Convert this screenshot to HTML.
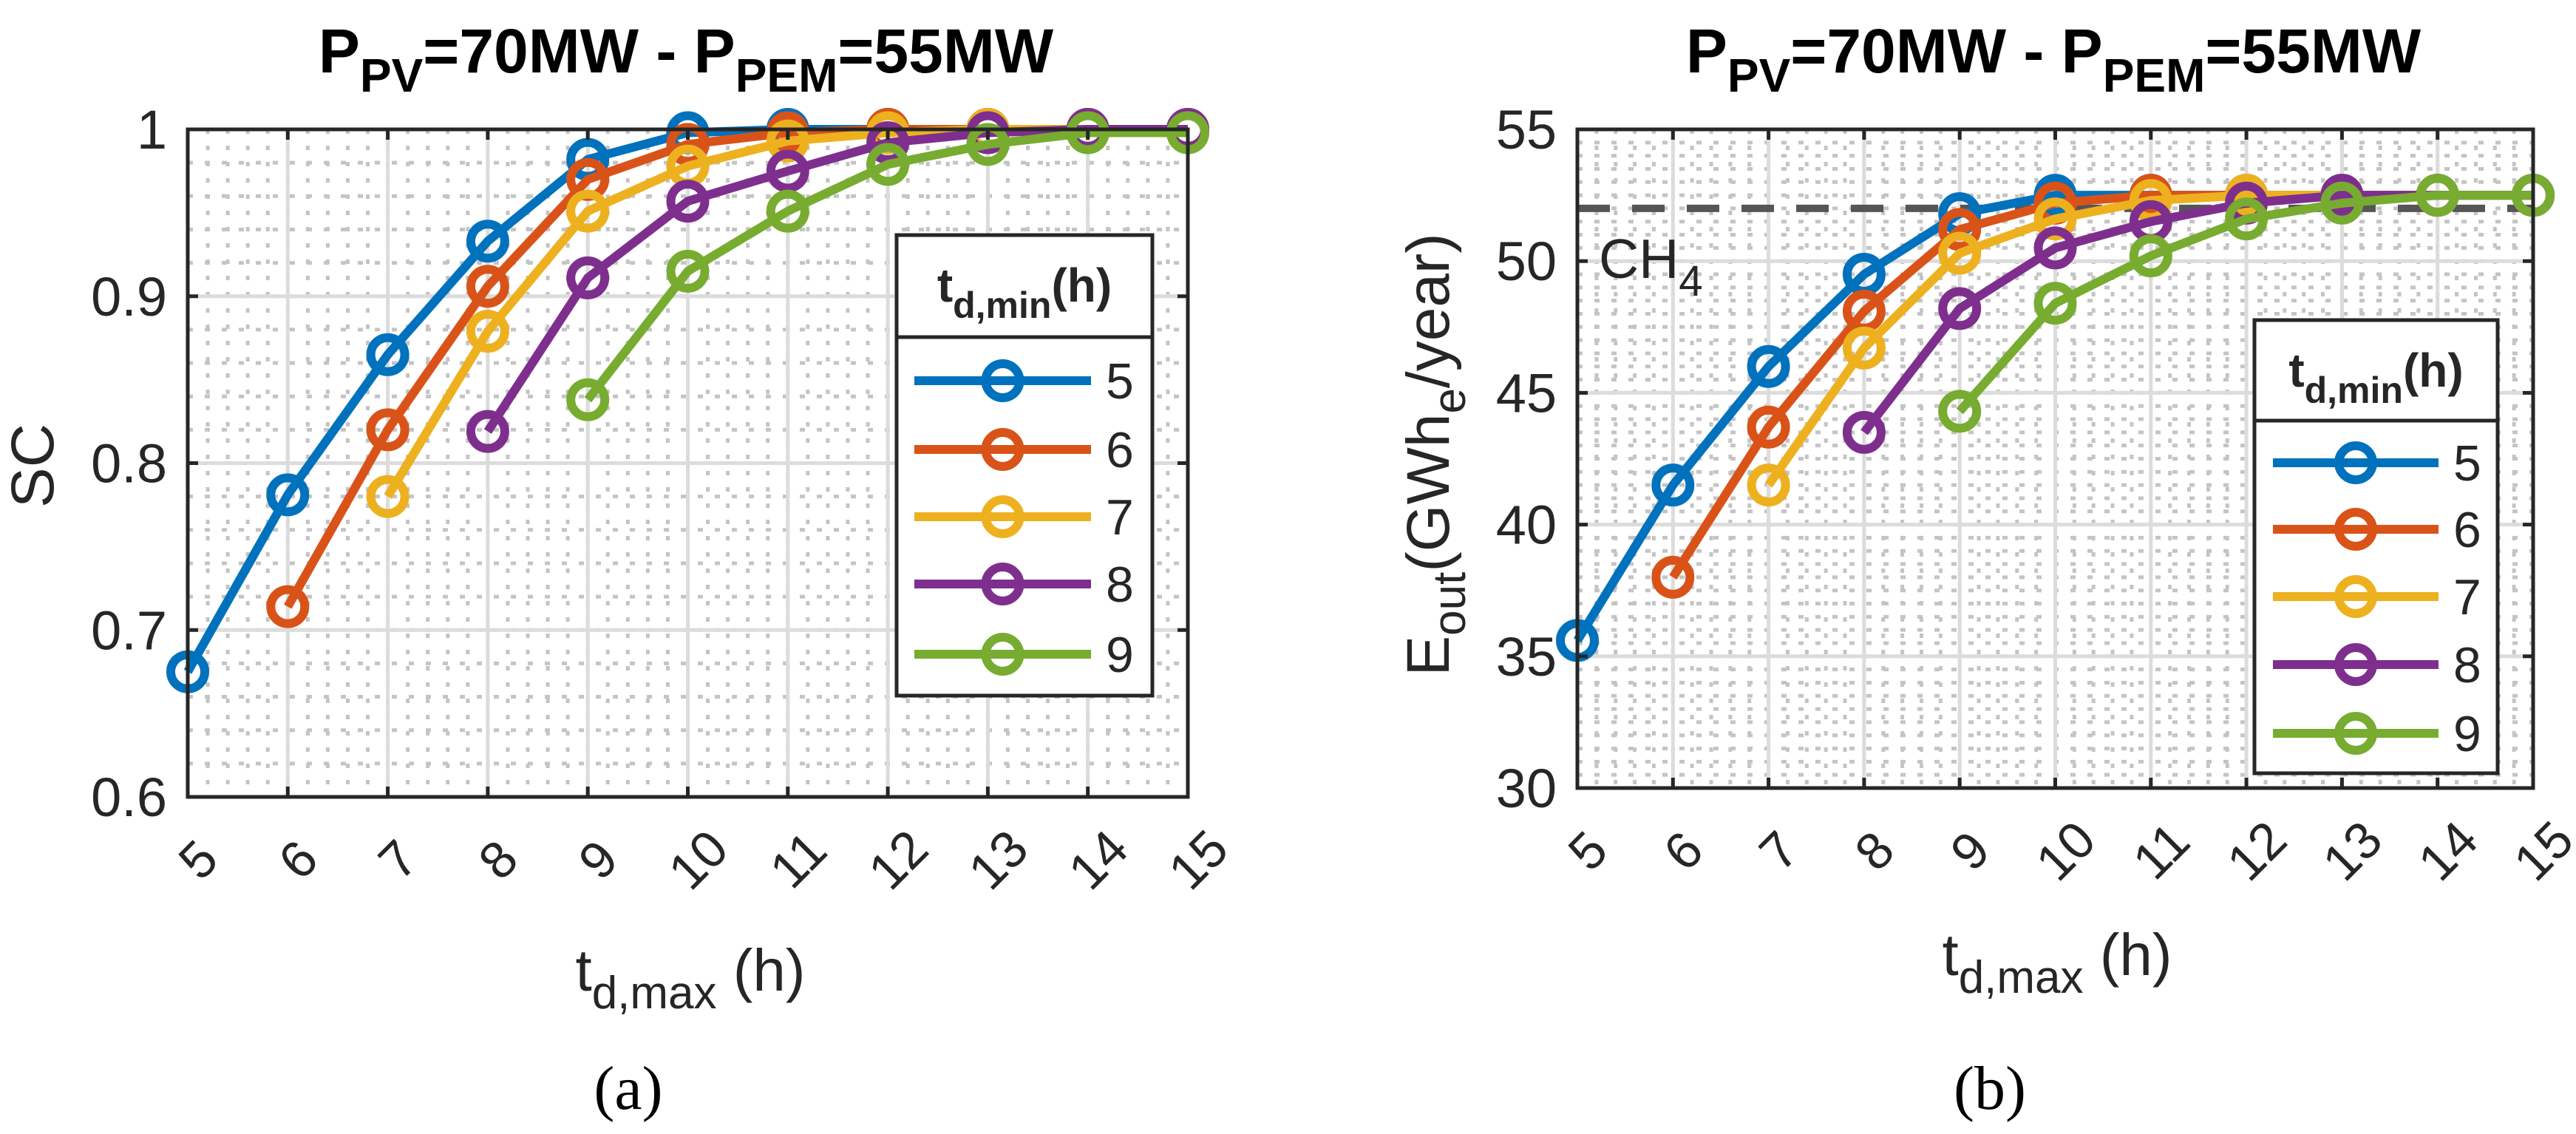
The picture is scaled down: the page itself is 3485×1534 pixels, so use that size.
<!DOCTYPE html>
<html><head><meta charset="utf-8"><style>
html,body{margin:0;padding:0;background:#fff}
svg{display:block}
text{font-family:"Liberation Sans",Arial,sans-serif;fill:#262626}
</style></head><body>
<svg id="svg" width="3485" height="1534" viewBox="0 0 3485 1534" xmlns="http://www.w3.org/2000/svg"></svg>
<script>
const xCategories = [5,6,7,8,9,10,11,12,13,14,15];
const seriesNames = ['5','6','7','8','9'];
const colors = ['#0072BD','#D95319','#EDB120','#7E2F8E','#77AC30'];
const scStart = [5,6,7,8,9];
const sc5 = [0.675,0.781,0.865,0.933,0.982,0.998,1,1,1,1,1];
const sc6 = [0.714,0.820,0.906,0.970,0.991,0.998,1,1,1,1];
const sc7 = [0.780,0.879,0.951,0.978,0.993,0.998,1,1,1];
const sc8 = [0.819,0.911,0.957,0.975,0.992,0.998,1,1];
const sc9 = [0.838,0.915,0.951,0.979,0.991,0.998,0.998];
const e5 = [35.6,41.5,46.0,49.5,51.8,52.5,52.5,52.5,52.5,52.5,52.5];
const e6 = [38.0,43.7,48.1,51.2,52.2,52.5,52.5,52.5,52.5,52.5];
const e7 = [41.5,46.7,50.3,51.6,52.3,52.5,52.5,52.5,52.5];
const e8 = [43.5,48.2,50.5,51.5,52.2,52.5,52.5,52.5];
const e9 = [44.3,48.4,50.2,51.6,52.2,52.5,52.5];
const scTicks = [0.6,0.7,0.8,0.9,1];
const scTickLabels = ['0.6','0.7','0.8','0.9','1'];
const eTicks = [30,35,40,45,50,55];
const eTickLabels = ['30','35','40','45','50','55'];
const ch4Level = 52;

const NS='http://www.w3.org/2000/svg';
const svg=document.getElementById('svg');
function mk(tag,attrs,parent){const e=document.createElementNS(NS,tag);for(const k in attrs)e.setAttribute(k,attrs[k]);(parent||svg).appendChild(e);return e;}

function drawChart(id,L,R,T,B,ymin,ymax,ticks,tickLabels,ystepMinor,series,leg,extra){
  const g=mk('g',{});
  
  
  const xs=v=>L+(v-5)/(15-5)*(R-L);
  const ys=v=>B-(v-ymin)/(ymax-ymin)*(B-T);
  for(let v=5;v<=15.001;v+=0.2){mk('line',{x1:xs(v),x2:xs(v),y1:T,y2:B,stroke:'#c4c4c4','stroke-width':5,'stroke-dasharray':'6 16'},g);}
  for(let v=ymin;v<=ymax+1e-9;v+=ystepMinor){mk('line',{x1:L,x2:R,y1:ys(v),y2:ys(v),stroke:'#c4c4c4','stroke-width':5,'stroke-dasharray':'7 16'},g);}
  xCategories.forEach(v=>mk('line',{x1:xs(v),x2:xs(v),y1:T,y2:B,stroke:'#dcdcdc','stroke-width':5},g));
  ticks.forEach(v=>mk('line',{x1:L,x2:R,y1:ys(v),y2:ys(v),stroke:'#dcdcdc','stroke-width':5},g));
  if(extra) extra(g,xs,ys);
  series.forEach((s,i)=>{
    const pts=s.map((v,j)=>[xs(scStart[i]+j),ys(v)]);
    const p=mk('polyline',{points:pts.map(p=>p.join(',')).join(' '),fill:'none',stroke:colors[i],'stroke-width':12,'stroke-linejoin':'round'},g);
    
    
    pts.forEach(pt=>{const c=mk('circle',{cx:pt[0],cy:pt[1],r:23,fill:'none',stroke:colors[i],'stroke-width':12},g);
      
      });
  });
  mk('rect',{x:L,y:T,width:R-L,height:B-T,fill:'none',stroke:'#262626','stroke-width':5},g);
  xCategories.forEach(v=>{mk('line',{x1:xs(v),x2:xs(v),y1:T,y2:T+14,stroke:'#262626','stroke-width':5},g);mk('line',{x1:xs(v),x2:xs(v),y1:B,y2:B-14,stroke:'#262626','stroke-width':5},g);
    const cx=xs(v)+14, cy=B+85;
    const t=mk('text',{x:cx,y:cy+24,'font-size':70,'text-anchor':'middle',transform:`rotate(-45 ${cx} ${cy})`},g);t.textContent=v;
    
    });
  ticks.forEach((v,i)=>{mk('line',{x1:L,x2:L+14,y1:ys(v),y2:ys(v),stroke:'#262626','stroke-width':5},g);mk('line',{x1:R,x2:R-14,y1:ys(v),y2:ys(v),stroke:'#262626','stroke-width':5},g);
    const t=mk('text',{x:L-28,y:ys(v)+26,'font-size':74,'text-anchor':'end'},g);t.textContent=tickLabels[i];
    
    });
  const lg=mk('g',{},g);
  
  
  mk('rect',{x:leg.x0,y:leg.y0,width:leg.x1-leg.x0,height:leg.y1-leg.y0,fill:'#fff',stroke:'#262626','stroke-width':5},lg);
  mk('line',{x1:leg.x0,x2:leg.x1,y1:leg.div,y2:leg.div,stroke:'#262626','stroke-width':5},lg);
  const lt=mk('text',{x:(leg.x0+leg.x1)/2,y:leg.y0+90,'font-size':64,'font-weight':'bold','text-anchor':'middle',fill:'#000'},lg);
  lt.innerHTML='t<tspan dy="22" font-size="50">d,min</tspan><tspan dy="-22">(h)</tspan>';
  
  
  seriesNames.forEach((n,i)=>{const y=leg.rows[i];
    const e=mk('g',{},lg);
    
    
    mk('line',{x1:leg.lx0,x2:leg.lx1,y1:y,y2:y,stroke:colors[i],'stroke-width':12},e);
    mk('circle',{cx:(leg.lx0+leg.lx1)/2,cy:y,r:23,fill:'none',stroke:colors[i],'stroke-width':12},e);
    const t=mk('text',{x:leg.lx1+20,y:y+24,'font-size':68,fill:'#000'},e);t.textContent=n;});
  return g;
}

drawChart('chart-sc',254,1607,175,1078,0.6,1,scTicks,scTickLabels,0.02,[sc5,sc6,sc7,sc8,sc9],
 {x0:1213,x1:1559,y0:318,y1:941,div:456,rows:[515,608,699,790,885],lx0:1237,lx1:1476},null);
drawChart('chart-eout',2134,3427,175,1066,30,55,eTicks,eTickLabels,0.5,[e5,e6,e7,e8,e9],
 {x0:3050,x1:3379,y0:433,y1:1046,div:569,rows:[626,716,807,899,992],lx0:3075,lx1:3299},
 (g,xs,ys)=>{const l=mk('line',{x1:2134,x2:3427,y1:ys(ch4Level),y2:ys(ch4Level),stroke:'#555','stroke-width':10,'stroke-dasharray':'44 30'},g);
   
   });

function T(html,attrs,name){const t=document.createElementNS(NS,'text');for(const k in attrs)t.setAttribute(k,attrs[k]);t.innerHTML=html;svg.appendChild(t);
 
 return t;}
const ttl='P<tspan dy="26" font-size="64">PV</tspan><tspan dy="-26">=70MW - P</tspan><tspan dy="26" font-size="64">PEM</tspan><tspan dy="-26">=55MW</tspan>';
T(ttl,{x:928,y:98,'font-size':84,'font-weight':'bold','text-anchor':'middle',style:'fill:#000'},'chart-a-title');
T(ttl,{x:2778,y:98,'font-size':84,'font-weight':'bold','text-anchor':'middle',style:'fill:#000'},'chart-b-title');
T('SC',{x:72,y:630,'font-size':82,'text-anchor':'middle',transform:'rotate(-90 72 630)'},'y-axis-title-sc');
T('E<tspan dy="22" font-size="62">out</tspan><tspan dy="-22">(GWh</tspan><tspan dy="22" font-size="62">e</tspan><tspan dy="-22">/year)</tspan>',{x:1960,y:615,'font-size':82,'text-anchor':'middle',transform:'rotate(-90 1960 615)'},'y-axis-title-eout');
T('t<tspan dy="24" font-size="62">d,max</tspan><tspan dy="-24"> (h)</tspan>',{x:934,y:1340,'font-size':80,'text-anchor':'middle'},'x-axis-title-a');
T('t<tspan dy="24" font-size="62">d,max</tspan><tspan dy="-24"> (h)</tspan>',{x:2783,y:1319,'font-size':80,'text-anchor':'middle'},'x-axis-title-b');
T('CH<tspan dy="24" font-size="58">4</tspan>',{x:2163,y:376,'font-size':75},'ch4-label');
T('(a)',{x:850,y:1500,'font-size':84,'text-anchor':'middle',style:'font-family:"Liberation Serif",serif;fill:#000'},'caption-a');
T('(b)',{x:2692,y:1500,'font-size':84,'text-anchor':'middle',style:'font-family:"Liberation Serif",serif;fill:#000'},'caption-b');
</script>
</body></html>
